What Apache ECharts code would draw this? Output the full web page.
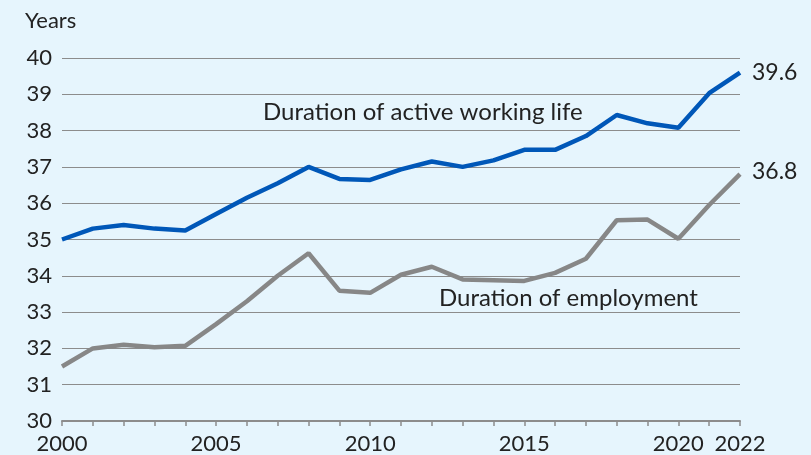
<!DOCTYPE html>
<html>
<head>
<meta charset="utf-8">
<script src="https://cdn.jsdelivr.net/npm/echarts@6/dist/echarts.min.js"></script>
<style>
  html, body { margin: 0; padding: 0; background: #e6f5fd; }
  #main { width: 811px; height: 455px; }
</style>
</head>
<body>
<div id="main"></div>
<script>
  var years = ['2000','2001','2002','2003','2004','2005','2006','2007','2008','2009','2010',
               '2011','2012','2013','2014','2015','2016','2017','2018','2019','2020','2021','2022'];
  var activeLife = [35.0, 35.3, 35.4, 35.3, 35.25, 35.7, 36.15, 36.55, 37.0, 36.67, 36.64,
                    36.93, 37.15, 37.0, 37.18, 37.47, 37.47, 37.85, 38.43, 38.2, 38.08, 39.03, 39.6];
  var employment = [31.5, 32.0, 32.1, 32.03, 32.07, 32.67, 33.3, 34.0, 34.62, 33.59, 33.53,
                    34.03, 34.25, 33.9, 33.88, 33.86, 34.08, 34.47, 35.53, 35.55, 35.02, 35.95, 36.8];
  var shownYears = ['2000', '2005', '2010', '2015', '2020', '2022'];

  var myChart = echarts.init(document.getElementById('main'));
  var font = 'Lato, "Open Sans", sans-serif';

  var option = {
    backgroundColor: '#e6f5fd',
    animation: false,
    textStyle: { fontFamily: font },
    grid: { left: 62, right: 71, top: 58, bottom: 34 },
    graphic: [
      { type: 'text', x: 25, y: 21, style: { text: 'Years', fontSize: 22, fontFamily: font, fill: '#222', verticalAlign: 'middle' } },
      { type: 'text', x: 263, y: 112, style: { text: 'Duration of active working life', fontSize: 24, fontFamily: font, fill: '#222', verticalAlign: 'middle' } },
      { type: 'text', x: 439, y: 298, style: { text: 'Duration of employment', fontSize: 24, fontFamily: font, fill: '#222', verticalAlign: 'middle' } }
    ],
    xAxis: {
      type: 'category',
      data: years,
      boundaryGap: false,
      axisLine: { show: true, lineStyle: { color: '#8c8c8c', width: 2 } },
      axisTick: { show: true, interval: 0, length: 5, lineStyle: { color: '#8c8c8c', width: 1.5 } },
      axisLabel: {
        interval: 0,
        color: '#222',
        fontSize: 22,
        margin: 12,
        formatter: function (v) { return shownYears.indexOf(v) >= 0 ? v : ''; }
      },
      splitLine: { show: false }
    },
    yAxis: {
      type: 'value',
      min: 30,
      max: 40,
      interval: 1,
      axisLine: { show: false },
      axisTick: { show: false },
      axisLabel: { color: '#222', fontSize: 22, margin: 10 },
      splitLine: { lineStyle: { color: '#8c8c8c', width: 1.2 } }
    },
    series: [
      {
        name: 'Duration of active working life',
        type: 'line',
        data: activeLife,
        symbol: 'none',
        lineStyle: { color: '#0057b8', width: 4.5 },
        endLabel: { show: true, formatter: function (p) { return p.value.toFixed(1); }, fontSize: 23, color: '#222', distance: 12, offset: [0, 0] }
      },
      {
        name: 'Duration of employment',
        type: 'line',
        data: employment,
        symbol: 'none',
        lineStyle: { color: '#878787', width: 4.5 },
        endLabel: { show: true, formatter: function (p) { return p.value.toFixed(1); }, fontSize: 23, color: '#222', distance: 12, offset: [0, -3] }
      }
    ]
  };

  myChart.setOption(option);
</script>
</body>
</html>
